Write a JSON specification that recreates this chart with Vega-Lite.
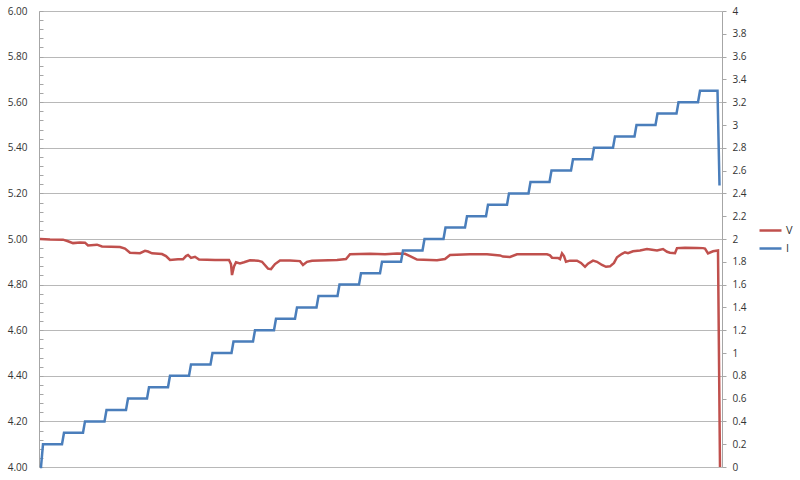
{
  "$schema": "https://vega.github.io/schema/vega-lite/v6.json",
  "autosize": "none",
  "width": 683,
  "height": 456,
  "padding": {"left": 39, "top": 11, "right": 78, "bottom": 13},
  "background": "#ffffff",
  "config": {
    "view": {"stroke": null},
    "font": "Open Sans",
    "axis": {"labelFont": "Open Sans", "labelFontSize": 10, "labelColor": "#333333", "domainColor": "#a6a6a6", "tickColor": "#a6a6a6", "gridColor": "#b8b8b8"}
  },
  "datasets": {
    "V": [
      {"t": 1, "V": 5.000}, {"t": 11, "V": 4.998}, {"t": 24, "V": 4.997}, {"t": 29, "V": 4.990},
      {"t": 34, "V": 4.982}, {"t": 41, "V": 4.985}, {"t": 46, "V": 4.984}, {"t": 49, "V": 4.972},
      {"t": 58, "V": 4.975}, {"t": 63, "V": 4.967}, {"t": 81, "V": 4.965}, {"t": 86, "V": 4.958},
      {"t": 91, "V": 4.940}, {"t": 101, "V": 4.938}, {"t": 106, "V": 4.948}, {"t": 109, "V": 4.945},
      {"t": 113, "V": 4.937}, {"t": 123, "V": 4.934}, {"t": 127, "V": 4.925}, {"t": 131, "V": 4.908},
      {"t": 139, "V": 4.911}, {"t": 144, "V": 4.911}, {"t": 147, "V": 4.925}, {"t": 149, "V": 4.930},
      {"t": 152, "V": 4.917}, {"t": 156, "V": 4.922}, {"t": 160, "V": 4.910}, {"t": 176, "V": 4.908},
      {"t": 190, "V": 4.908}, {"t": 192, "V": 4.890}, {"t": 193, "V": 4.842}, {"t": 195, "V": 4.880},
      {"t": 197, "V": 4.898}, {"t": 201, "V": 4.893}, {"t": 205, "V": 4.898}, {"t": 211, "V": 4.907},
      {"t": 219, "V": 4.905}, {"t": 223, "V": 4.900}, {"t": 229, "V": 4.870}, {"t": 232, "V": 4.868},
      {"t": 236, "V": 4.890}, {"t": 241, "V": 4.906}, {"t": 251, "V": 4.906}, {"t": 261, "V": 4.903},
      {"t": 264, "V": 4.886}, {"t": 268, "V": 4.900}, {"t": 273, "V": 4.905}, {"t": 281, "V": 4.906},
      {"t": 298, "V": 4.908}, {"t": 307, "V": 4.912}, {"t": 311, "V": 4.933}, {"t": 331, "V": 4.935},
      {"t": 346, "V": 4.933}, {"t": 358, "V": 4.936}, {"t": 366, "V": 4.935}, {"t": 371, "V": 4.925},
      {"t": 378, "V": 4.910}, {"t": 398, "V": 4.907}, {"t": 406, "V": 4.912}, {"t": 411, "V": 4.930},
      {"t": 431, "V": 4.933}, {"t": 448, "V": 4.933}, {"t": 461, "V": 4.928}, {"t": 464, "V": 4.923},
      {"t": 471, "V": 4.921}, {"t": 478, "V": 4.933}, {"t": 508, "V": 4.933}, {"t": 511, "V": 4.928},
      {"t": 513, "V": 4.918}, {"t": 519, "V": 4.917}, {"t": 521, "V": 4.912}, {"t": 523, "V": 4.937},
      {"t": 525, "V": 4.925}, {"t": 527, "V": 4.900}, {"t": 531, "V": 4.905}, {"t": 538, "V": 4.905},
      {"t": 542, "V": 4.895}, {"t": 546, "V": 4.878}, {"t": 549, "V": 4.892}, {"t": 554, "V": 4.905},
      {"t": 558, "V": 4.900}, {"t": 563, "V": 4.886}, {"t": 567, "V": 4.878}, {"t": 571, "V": 4.880},
      {"t": 575, "V": 4.895}, {"t": 578, "V": 4.920}, {"t": 583, "V": 4.935}, {"t": 586, "V": 4.942},
      {"t": 589, "V": 4.938}, {"t": 594, "V": 4.946}, {"t": 601, "V": 4.950}, {"t": 608, "V": 4.956},
      {"t": 613, "V": 4.953}, {"t": 618, "V": 4.950}, {"t": 624, "V": 4.956}, {"t": 628, "V": 4.944},
      {"t": 631, "V": 4.940}, {"t": 636, "V": 4.938}, {"t": 638, "V": 4.960}, {"t": 646, "V": 4.962},
      {"t": 658, "V": 4.961}, {"t": 664, "V": 4.960}, {"t": 666, "V": 4.958}, {"t": 669, "V": 4.937},
      {"t": 674, "V": 4.946}, {"t": 679, "V": 4.950}, {"t": 681, "V": 4.000}
    ],
    "I": [
      {"t": 1, "I": 0}, {"t": 2, "I": 0}, {"t": 4, "I": 0.2}, {"t": 23, "I": 0.2},
      {"t": 25, "I": 0.3}, {"t": 44, "I": 0.3}, {"t": 46, "I": 0.4}, {"t": 65.5, "I": 0.4},
      {"t": 67.5, "I": 0.5}, {"t": 87, "I": 0.5}, {"t": 89, "I": 0.6}, {"t": 108, "I": 0.6},
      {"t": 110, "I": 0.7}, {"t": 129, "I": 0.7}, {"t": 131, "I": 0.8}, {"t": 150, "I": 0.8},
      {"t": 152, "I": 0.9}, {"t": 171.5, "I": 0.9}, {"t": 173.5, "I": 1.0}, {"t": 192.5, "I": 1.0},
      {"t": 194.5, "I": 1.1}, {"t": 214, "I": 1.1}, {"t": 216, "I": 1.2}, {"t": 235, "I": 1.2},
      {"t": 237, "I": 1.3}, {"t": 256, "I": 1.3}, {"t": 258, "I": 1.4}, {"t": 277.5, "I": 1.4},
      {"t": 279.5, "I": 1.5}, {"t": 298.5, "I": 1.5}, {"t": 300.5, "I": 1.6}, {"t": 320, "I": 1.6},
      {"t": 322, "I": 1.7}, {"t": 341, "I": 1.7}, {"t": 343, "I": 1.8}, {"t": 362, "I": 1.8},
      {"t": 364, "I": 1.9}, {"t": 383.5, "I": 1.9}, {"t": 385.5, "I": 2.0}, {"t": 404.5, "I": 2.0},
      {"t": 406.5, "I": 2.1}, {"t": 426, "I": 2.1}, {"t": 428, "I": 2.2}, {"t": 447, "I": 2.2},
      {"t": 449, "I": 2.3}, {"t": 468, "I": 2.3}, {"t": 470, "I": 2.4}, {"t": 489.5, "I": 2.4},
      {"t": 491.5, "I": 2.5}, {"t": 510.5, "I": 2.5}, {"t": 512.5, "I": 2.6}, {"t": 532, "I": 2.6},
      {"t": 534, "I": 2.7}, {"t": 553, "I": 2.7}, {"t": 555, "I": 2.8}, {"t": 574, "I": 2.8},
      {"t": 576, "I": 2.9}, {"t": 595.5, "I": 2.9}, {"t": 597.5, "I": 3.0}, {"t": 616.5, "I": 3.0},
      {"t": 618.5, "I": 3.1}, {"t": 637.5, "I": 3.1}, {"t": 639.5, "I": 3.2}, {"t": 659, "I": 3.2},
      {"t": 661, "I": 3.3}, {"t": 678.5, "I": 3.3}, {"t": 680.5, "I": 2.47}
    ]
  },
  "layer": [
    {
      "data": {"name": "V"},
      "mark": {"type": "line", "strokeWidth": 2.5, "interpolate": "linear"},
      "encoding": {
        "x": {"field": "t", "type": "quantitative", "scale": {"domain": [0, 683], "nice": false, "zero": false}, "axis": null},
        "y": {
          "field": "V", "type": "quantitative",
          "scale": {"domain": [4, 6], "nice": false, "zero": false},
          "axis": {
            "orient": "left", "title": null,
            "values": [4,4.04,4.08,4.12,4.16,4.2,4.24,4.28,4.32,4.36,4.4,4.44,4.48,4.52,4.56,4.6,4.64,4.68,4.72,4.76,4.8,4.84,4.88,4.92,4.96,5,5.04,5.08,5.12,5.16,5.2,5.24,5.28,5.32,5.36,5.4,5.44,5.48,5.52,5.56,5.6,5.64,5.68,5.72,5.76,5.8,5.84,5.88,5.92,5.96,6],
            "labelExpr": "abs(datum.value*5 - round(datum.value*5)) < 0.001 ? format(datum.value, '.2f') : ''",
            "labelOverlap": false,
            "labelBound": false,
            "labelFlush": false,
            "tickSize": -4,
            "labelPadding": 16,
            "grid": true,
            "gridOpacity": {"condition": {"test": "abs(datum.value*5 - round(datum.value*5)) < 0.001", "value": 1}, "value": 0},
            "gridWidth": 1
          }
        },
        "color": {
          "datum": "V", "type": "nominal",
          "scale": {"domain": ["V", "I"], "range": ["#C0504D", "#4A7EBB"]},
          "legend": {
            "title": null, "orient": "none", "legendX": 719, "legendY": 207, "padding": 0,
            "symbolType": "stroke", "symbolSize": 484, "symbolStrokeWidth": 2.5,
            "rowPadding": -1, "labelOffset": 3, "labelFont": "Open Sans", "labelFontSize": 11, "labelColor": "#333333"
          }
        }
      }
    },
    {
      "data": {"name": "I"},
      "mark": {"type": "line", "strokeWidth": 2.5, "interpolate": "linear"},
      "encoding": {
        "x": {"field": "t", "type": "quantitative", "scale": {"domain": [0, 683], "nice": false, "zero": false}, "axis": null},
        "y": {
          "field": "I", "type": "quantitative",
          "scale": {"domain": [0, 4], "nice": false},
          "axis": {
            "orient": "right", "title": null, "grid": false,
            "values": [0,0.2,0.4,0.6,0.8,1,1.2,1.4,1.6,1.8,2,2.2,2.4,2.6,2.8,3,3.2,3.4,3.6,3.8,4],
            "format": ".1~f", "labelOverlap": false, "labelFlush": false,
            "tickSize": 4, "labelPadding": 6
          }
        },
        "color": {"datum": "I", "type": "nominal"}
      }
    }
  ],
  "resolve": {"scale": {"y": "independent"}}
}
